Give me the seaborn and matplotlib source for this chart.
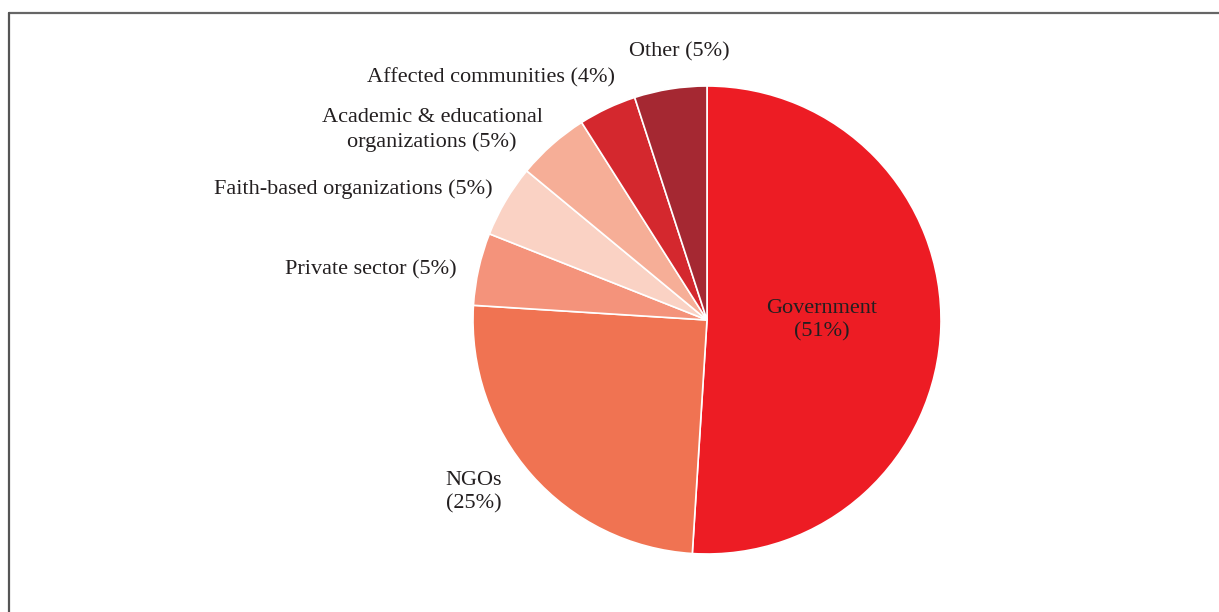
import matplotlib
matplotlib.use("Agg")
import matplotlib.pyplot as plt
import seaborn as sns
from matplotlib.lines import Line2D

categories = ["Government", "NGOs", "Private sector", "Faith-based organizations",
              "Academic & educational\norganizations", "Affected communities", "Other"]
values = [51, 25, 5, 5, 5, 4, 5]
colors = ["#ED1C24", "#F07352", "#F4937B", "#FAD2C4", "#F6AE97", "#D4282E", "#A52832"]

sns.set_theme(style="white")
plt.rcParams["font.family"] = ["Liberation Serif", "DejaVu Serif"]

W, H = 1219, 612
fig = plt.figure(figsize=(W / 100, H / 100), dpi=100)
ax = fig.add_axes([0, 0, 1, 1])

cx, cy, r = 707, H - 320, 234
ax.pie(values, colors=colors, startangle=90, counterclock=False,
       center=(cx, cy), radius=r, frame=True,
       wedgeprops=dict(edgecolor="white", linewidth=1.2))
ax.set_xlim(0, W)
ax.set_ylim(0, H)
ax.set_aspect("equal")
ax.axis("off")

labels = [f"{c}\n({v}%)" if i in (0, 1) else f"{c} ({v}%)" for i, (c, v) in enumerate(zip(categories, values))]
pos = [(822, 320, "center"), (474, 492, "center"), (457, 270, "right"),
       (493, 189, "right"), (432, 130, "center"), (615, 78, "right"), (679, 52, "center")]
for lab, (x, y, ha) in zip(labels, pos):
    ax.text(x, H - y, lab, ha=ha, va="center", fontsize=16, color="#231F20",
            linespacing=1.3, multialignment="center")

fig.add_artist(Line2D([9 / W, 1], [1 - 13 / H, 1 - 13 / H], transform=fig.transFigure,
                      color="#666666", linewidth=1.6))
fig.add_artist(Line2D([9 / W, 9 / W], [0, 1 - 13 / H], transform=fig.transFigure,
                      color="#555555", linewidth=1.6))

fig.savefig("out.png", dpi=100, facecolor="white")
